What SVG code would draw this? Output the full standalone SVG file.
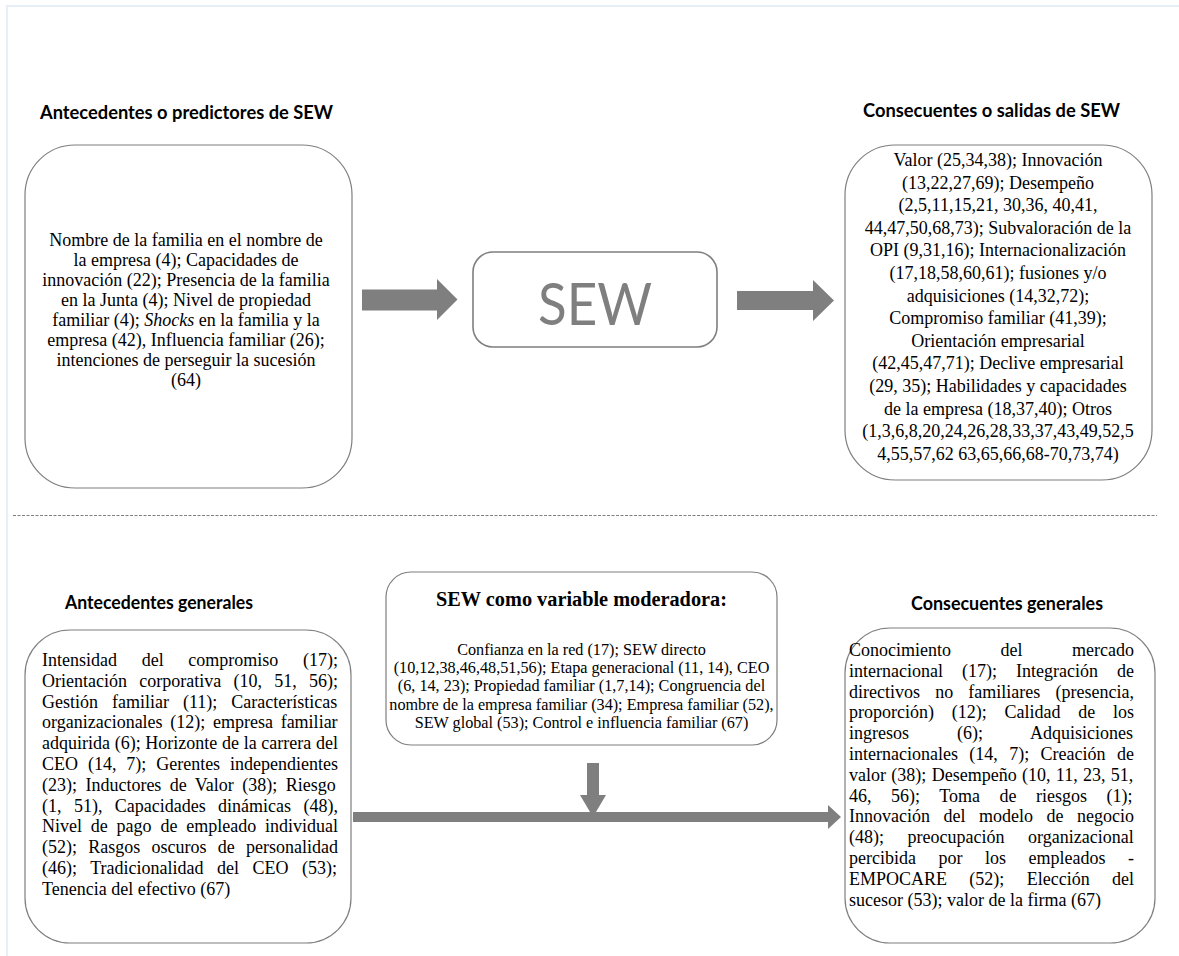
<svg xmlns="http://www.w3.org/2000/svg" width="1179" height="956" viewBox="0 0 1179 956">
<defs>
<style>
.box{fill:#fff;stroke:#7f7f7f;stroke-width:1.2}
.sew{fill:#fff;stroke:#7f7f7f;stroke-width:1.6}
.t{font-family:"Liberation Serif","Times New Roman",serif;font-size:18px;fill:#000}
.c{text-anchor:middle}
.m{font-family:"Liberation Serif","Times New Roman",serif;font-size:16.2px;fill:#000;text-anchor:middle}
.h{font-family:Lato,"Liberation Sans",sans-serif;font-weight:700;font-size:19px;fill:#000}
.ar{fill:#7f7f7f}
</style>
</defs>
<rect x="0" y="0" width="1179" height="956" fill="#fff"/>
<rect x="7" y="6" width="1180" height="960" fill="none" stroke="#e6eef7" stroke-width="2"/>

<g id="title-antecedentes">
<text class="h" x="40" y="119" textLength="293" lengthAdjust="spacingAndGlyphs">Antecedentes o predictores de SEW</text>
</g>
<g id="title-consecuentes">
<text class="h" x="863" y="117" textLength="257" lengthAdjust="spacingAndGlyphs">Consecuentes o salidas de SEW</text>
</g>

<g id="node-antecedentes">
<rect class="box" x="25" y="145" width="327" height="343" rx="50"/>
<text class="t c" x="186" y="246">Nombre de la familia en el nombre de</text>
<text class="t c" x="186" y="266">la empresa (4); Capacidades de</text>
<text class="t c" x="186" y="286">innovación (22); Presencia de la familia</text>
<text class="t c" x="186" y="306">en la Junta (4); Nivel de propiedad</text>
<text class="t c" x="186" y="326">familiar (4); <tspan font-style="italic">Shocks</tspan> en la familia y la</text>
<text class="t c" x="186" y="346">empresa (42), Influencia familiar (26);</text>
<text class="t c" x="186" y="366">intenciones de perseguir la sucesión</text>
<text class="t c" x="186" y="386">(64)</text>
</g>

<g id="node-sew">
<rect class="sew" x="473" y="252" width="244" height="95" rx="20"/>
<text x="595" y="325" text-anchor="middle" font-family="Lato, 'Liberation Sans', sans-serif" font-size="58" fill="#7f7f7f" textLength="114" lengthAdjust="spacingAndGlyphs">SEW</text>
</g>

<g id="node-consecuentes">
<rect class="box" x="845" y="145" width="307" height="335" rx="50"/>
<text class="t c" x="998" y="166">Valor (25,34,38); Innovación</text>
<text class="t c" x="998" y="188.6">(13,22,27,69); Desempeño</text>
<text class="t c" x="998" y="211.2">(2,5,11,15,21, 30,36, 40,41,</text>
<text class="t c" x="998" y="233.8">44,47,50,68,73); Subvaloración de la</text>
<text class="t c" x="998" y="256.4">OPI (9,31,16); Internacionalización</text>
<text class="t c" x="998" y="279">(17,18,58,60,61); fusiones y/o</text>
<text class="t c" x="998" y="301.6">adquisiciones (14,32,72);</text>
<text class="t c" x="998" y="324.2">Compromiso familiar (41,39);</text>
<text class="t c" x="998" y="346.8">Orientación empresarial</text>
<text class="t c" x="998" y="369.4">(42,45,47,71); Declive empresarial</text>
<text class="t c" x="998" y="392">(29, 35); Habilidades y capacidades</text>
<text class="t c" x="998" y="414.6">de la empresa (18,37,40); Otros</text>
<text class="t c" x="998" y="437.2">(1,3,6,8,20,24,26,28,33,37,43,49,52,5</text>
<text class="t c" x="998" y="459.8">4,55,57,62 63,65,66,68-70,73,74)</text>
</g>

<g id="divider">
<line x1="13" y1="515.5" x2="1157" y2="515.5" stroke="#7f7f7f" stroke-width="1" stroke-dasharray="3 1.5"/>
</g>

<g id="title-ant-gen">
<text class="h" x="65" y="609" textLength="188" lengthAdjust="spacingAndGlyphs">Antecedentes generales</text>
</g>
<g id="title-cons-gen">
<text class="h" x="911" y="610" textLength="192" lengthAdjust="spacingAndGlyphs">Consecuentes generales</text>
</g>

<g id="node-moderadora">
<rect class="box" x="386" y="572" width="391" height="173" rx="25"/>
<text x="581.5" y="606" text-anchor="middle" font-family="'Liberation Serif','Times New Roman',serif" font-weight="700" font-size="20.3" fill="#000">SEW como variable moderadora:</text>
<text class="m" x="581.5" y="655">Confianza en la red (17); SEW directo</text>
<text class="m" x="581.5" y="673.2">(10,12,38,46,48,51,56); Etapa generacional (11, 14), CEO</text>
<text class="m" x="581.5" y="691.4">(6, 14, 23); Propiedad familiar (1,7,14); Congruencia del</text>
<text class="m" x="581.5" y="709.6">nombre de la empresa familiar (34); Empresa familiar (52),</text>
<text class="m" x="581.5" y="727.8">SEW global (53); Control e influencia familiar (67)</text>
</g>

<g id="node-ant-gen">
<rect class="box" x="25" y="630" width="326" height="313" rx="45"/>
<text class="t" x="42" y="666" word-spacing="20.17">Intensidad del compromiso (17);</text>
<text class="t" x="42" y="686.8" word-spacing="7.77">Orientación corporativa (10, 51, 56);</text>
<text class="t" x="42" y="707.6" word-spacing="9.52">Gestión familiar (11); Características</text>
<text class="t" x="42" y="728.4" word-spacing="3.19">organizacionales (12); empresa familiar</text>
<text class="t" x="42" y="749.2" word-spacing="0.18">adquirida (6); Horizonte de la carrera del</text>
<text class="t" x="42" y="770" word-spacing="5.39">CEO (14, 7); Gerentes independientes</text>
<text class="t" x="42" y="790.8" word-spacing="3.91">(23); Inductores de Valor (38); Riesgo</text>
<text class="t" x="42" y="811.6" word-spacing="7.89">(1, 51), Capacidades dinámicas (48),</text>
<text class="t" x="42" y="832.4" word-spacing="4.31">Nivel de pago de empleado individual</text>
<text class="t" x="42" y="853.2" word-spacing="6.76">(52); Rasgos oscuros de personalidad</text>
<text class="t" x="42" y="874" word-spacing="9.01">(46); Tradicionalidad del CEO (53);</text>
<text class="t" x="42" y="894.8">Tenencia del efectivo (67)</text>
</g>

<g id="node-cons-gen">
<rect class="box" x="845" y="628" width="310" height="315" rx="45"/>
<text class="t" x="849" y="656" word-spacing="45.01">Conocimiento del mercado</text>
<text class="t" x="849" y="676.8" word-spacing="14.52">internacional (17); Integración de</text>
<text class="t" x="849" y="697.6" word-spacing="10.69">directivos no familiares (presencia,</text>
<text class="t" x="849" y="718.4" word-spacing="13.26">proporción) (12); Calidad de los</text>
<text class="t" x="849" y="739.2" word-spacing="43.51">ingresos (6); Adquisiciones</text>
<text class="t" x="849" y="760" word-spacing="6.89">internacionales (14, 7); Creación de</text>
<text class="t" x="849" y="780.8" word-spacing="0.84">valor (38); Desempeño (10, 11, 23, 51,</text>
<text class="t" x="849" y="801.6" word-spacing="15.01">46, 56); Toma de riesgos (1);</text>
<text class="t" x="849" y="822.4" word-spacing="9.01">Innovación del modelo de negocio</text>
<text class="t" x="849" y="843.2" word-spacing="19.04">(48); preocupación organizacional</text>
<text class="t" x="849" y="864" word-spacing="18.01">percibida por los empleados -</text>
<text class="t" x="849" y="884.8" word-spacing="17.84">EMPOCARE (52); Elección del</text>
<text class="t" x="849" y="905.6">sucesor (53); valor de la firma (67)</text>
</g>

<g id="connectors">
<polygon class="ar" points="362,289.5 437,289.5 437,279 457.5,299.5 437,320 437,310.5 362,310.5"/>
<polygon class="ar" points="737,291 813,291 813,280 834,300.5 813,321 813,310 737,310"/>
<polygon class="ar" points="587,763 599,763 599,795 606,795 593,817 580,795 587,795"/>
<polygon class="ar" points="353,812 828,812 828,805 841,817 828,829 828,822 353,822"/>
</g>
</svg>
